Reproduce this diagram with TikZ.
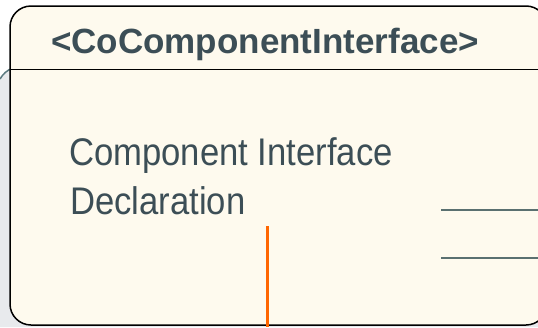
\documentclass[tikz,border=0pt]{standalone}
\usepackage{fontspec}
\setmainfont{Liberation Sans}
\newfontfamily\bodyfont[FakeStretch=0.9]{Liberation Sans}
\definecolor{boxfill}{HTML}{FEFAEE}
\definecolor{inktext}{HTML}{3C4E56}
\definecolor{backgrey}{HTML}{E8EAED}
\definecolor{backedge}{HTML}{5B7A80}
\definecolor{portline}{HTML}{5A7070}
\definecolor{wireorange}{HTML}{FF6600}
\tikzset{
  classbox/.style={draw=black, line width=1.5pt, fill=boxfill, rounded corners=21pt},
  titletext/.style={text=inktext, inner sep=0pt, font=\fontsize{35}{40}\selectfont\bfseries},
  bodytext/.style={text=inktext, inner sep=0pt, font=\bodyfont\fontsize{38.5}{48}\selectfont},
  portstroke/.style={draw=portline, line width=2pt},
  wire/.style={draw=wireorange, line width=3pt},
}
\begin{document}
\begin{tikzpicture}[x=1pt, y=-1pt]
\useasboundingbox (0,0) rectangle (538,327);
% shape lying behind the class box
\fill[backgrey] (0,79) .. controls (3,74) and (7,70) .. (13,68) -- (538,68) -- (538,327) -- (0,327) -- cycle;
\draw[backedge, line width=1.5pt] (0,79) .. controls (3,74) and (7,70) .. (13,68);
% class box with its header compartment
\draw[classbox] (10,6) rectangle (547,325);
\coordinate (sepL) at (10,69.5);
\coordinate (sepR) at (547,69.5);
\draw[black, line width=1.5pt] (sepL) -- (sepR);
\node[titletext, anchor=base] (title) at (265,53) {<CoComponentInterface>};
\node[bodytext, anchor=base west] (body1) at (69,165) {Component Interface};
\node[bodytext, anchor=base west] (body2) at (70,214) {Declaration};
% port strokes on the right
\coordinate (p1a) at (441,210);
\coordinate (p1b) at (538,210);
\coordinate (p2a) at (441,257.5);
\coordinate (p2b) at (538,257.5);
\draw[portstroke] (p1a) -- (p1b);
\draw[portstroke] (p2a) -- (p2b);
% orange wire leaving the bottom edge
\coordinate (w1) at (267,226);
\coordinate (w2) at (267,327);
\draw[wire] (w1) -- (w2);
\end{tikzpicture}
\end{document}
